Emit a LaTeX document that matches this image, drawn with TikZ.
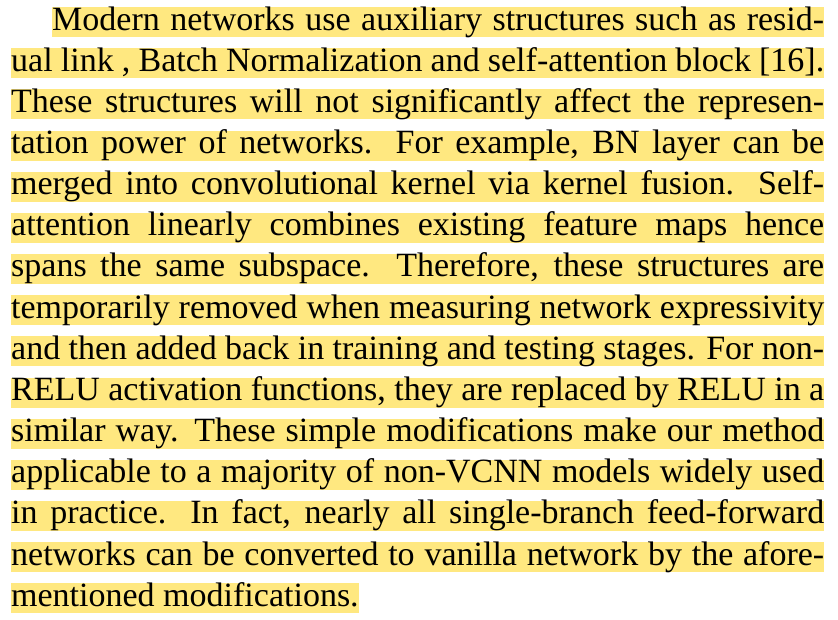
\documentclass[tikz,border=0pt]{standalone}
\usepackage{fontspec}
\setmainfont{Liberation Serif}
\usepackage{xcolor}
\usetikzlibrary{positioning}
\definecolor{hlyellow}{RGB}{255,232,128}
\tikzset{
    hlline/.style = {fill=hlyellow, rectangle, anchor=north west, inner xsep=0pt, inner ysep=0pt,
      text height=23pt, text depth=7pt, font=\fontsize{34pt}{41pt}\selectfont},
}
\newcommand{\fullline}[1]{\makebox[813pt][s]{#1}}

\begin{document}
\begin{tikzpicture}[x=1pt, y=1pt]
\useasboundingbox (0,0) rectangle (838,-620);

\node [hlline, name = line1] at (52,-7) {\makebox[772pt][s]{Modern networks use auxiliary structures such as resid-}};
\node [hlline, name = line2] at (11,-48.1) {\fullline{ual link , Batch Normalization and self-attention block [16].}};
\node [hlline, name = line3] at (11,-89.3) {\fullline{These structures will not significantly affect the represen-}};
\node [hlline, name = line4] at (11,-130.4) {\fullline{tation power of networks.  For example, BN layer can be}};
\node [hlline, name = line5] at (11,-171.6) {\fullline{merged into convolutional kernel via kernel fusion.  Self-}};
\node [hlline, name = line6] at (11,-212.7) {\fullline{attention linearly combines existing feature maps hence}};
\node [hlline, name = line7] at (11,-253.8) {\fullline{spans the same subspace.  Therefore, these structures are}};
\node [hlline, name = line8] at (11,-295.0) {\fullline{temporarily removed when measuring network expressivity}};
\node [hlline, name = line9] at (11,-336.1) {\fullline{and then added back in training and testing stages. For non-}};
\node [hlline, name = line10] at (11,-377.3) {\fullline{RELU activation functions, they are replaced by RELU in a}};
\node [hlline, name = line11] at (11,-418.4) {\fullline{similar way. These simple modifications make our method}};
\node [hlline, name = line12] at (11,-459.5) {\fullline{applicable to a majority of non-VCNN models widely used}};
\node [hlline, name = line13] at (11,-500.7) {\fullline{in practice.  In fact, nearly all single-branch feed-forward}};
\node [hlline, name = line14] at (11,-541.8) {\fullline{networks can be converted to vanilla network by the afore-}};
\node [hlline, name = line15] at (11,-583.0) {mentioned modifications.};

\end{tikzpicture}
\end{document}
